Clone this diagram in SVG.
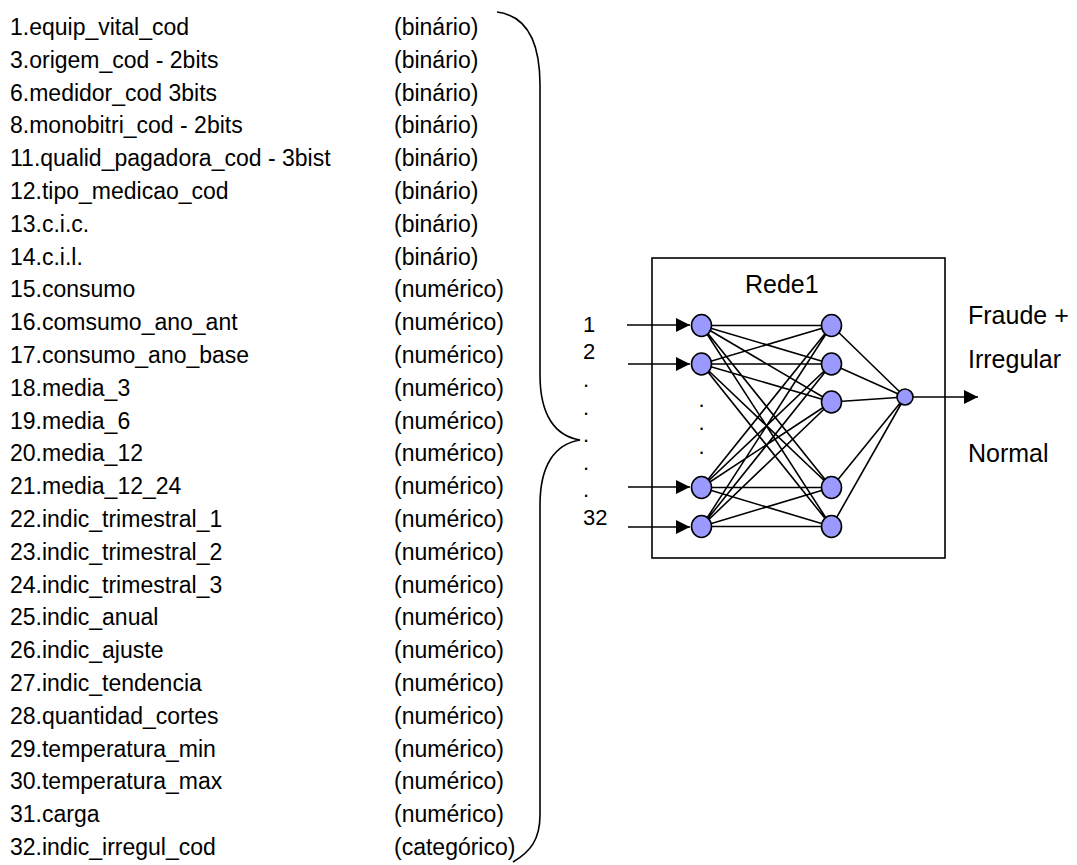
<svg xmlns="http://www.w3.org/2000/svg" width="1077" height="865" viewBox="0 0 1077 865">
<style>
text{font-family:"Liberation Sans",Arial,sans-serif;fill:#000}
.li{font-size:23px}
.lb{font-size:22px}
.big{font-size:25px}
.ln{stroke:#000;stroke-width:1.6;fill:none}
.nd{fill:#9999ff;stroke:#000;stroke-width:1.6}
</style>
<defs>
<marker id="ah" markerWidth="14" markerHeight="14" refX="14" refY="7" orient="auto" markerUnits="userSpaceOnUse"><path d="M0,0 L14,7 L0,14 z" fill="#000"/></marker>
</defs>
<rect width="1077" height="865" fill="#fff"/>
<g id="variable-list" class="li">
<text x="10" y="35">1.equip_vital_cod</text><text x="394" y="35">(binário)</text>
<text x="10" y="67.8">3.origem_cod - 2bits</text><text x="394" y="67.8">(binário)</text>
<text x="10" y="100.6">6.medidor_cod 3bits</text><text x="394" y="100.6">(binário)</text>
<text x="10" y="133.4">8.monobitri_cod - 2bits</text><text x="394" y="133.4">(binário)</text>
<text x="10" y="166.2">11.qualid_pagadora_cod - 3bist</text><text x="394" y="166.2">(binário)</text>
<text x="10" y="199">12.tipo_medicao_cod</text><text x="394" y="199">(binário)</text>
<text x="10" y="231.8">13.c.i.c.</text><text x="394" y="231.8">(binário)</text>
<text x="10" y="264.6">14.c.i.l.</text><text x="394" y="264.6">(binário)</text>
<text x="10" y="297.4">15.consumo</text><text x="394" y="297.4">(numérico)</text>
<text x="10" y="330.2">16.comsumo_ano_ant</text><text x="394" y="330.2">(numérico)</text>
<text x="10" y="363">17.consumo_ano_base</text><text x="394" y="363">(numérico)</text>
<text x="10" y="395.8">18.media_3</text><text x="394" y="395.8">(numérico)</text>
<text x="10" y="428.6">19.media_6</text><text x="394" y="428.6">(numérico)</text>
<text x="10" y="461.4">20.media_12</text><text x="394" y="461.4">(numérico)</text>
<text x="10" y="494.2">21.media_12_24</text><text x="394" y="494.2">(numérico)</text>
<text x="10" y="527">22.indic_trimestral_1</text><text x="394" y="527">(numérico)</text>
<text x="10" y="559.8">23.indic_trimestral_2</text><text x="394" y="559.8">(numérico)</text>
<text x="10" y="592.6">24.indic_trimestral_3</text><text x="394" y="592.6">(numérico)</text>
<text x="10" y="625.4">25.indic_anual</text><text x="394" y="625.4">(numérico)</text>
<text x="10" y="658.2">26.indic_ajuste</text><text x="394" y="658.2">(numérico)</text>
<text x="10" y="691">27.indic_tendencia</text><text x="394" y="691">(numérico)</text>
<text x="10" y="723.8">28.quantidad_cortes</text><text x="394" y="723.8">(numérico)</text>
<text x="10" y="756.6">29.temperatura_min</text><text x="394" y="756.6">(numérico)</text>
<text x="10" y="789.4">30.temperatura_max</text><text x="394" y="789.4">(numérico)</text>
<text x="10" y="822.2">31.carga</text><text x="394" y="822.2">(numérico)</text>
<text x="10" y="855">32.indic_irregul_cod</text><text x="394" y="855">(categórico)</text>
</g>
<g id="brace">
<path class="ln" d="M497,12 C528,16 540,45 540,85 L540,375 C540,415 555,436 580,440 C555,444 540,465 540,505 L540,815 C540,840 530,852 513,862"/>
</g>
<g id="input-labels" class="lb">
<text x="583" y="331.5">1</text>
<text x="583" y="359">2</text>
<text x="583" y="387">.</text>
<text x="583" y="415">.</text>
<text x="583" y="442">.</text>
<text x="583" y="470">.</text>
<text x="583" y="497">.</text>
<text x="583" y="525">32</text>
</g>
<g id="network-box">
<rect x="652" y="258" width="293" height="300" fill="none" stroke="#000" stroke-width="1.6"/>
<text class="big" x="745" y="293">Rede1</text>
</g>
<g id="connectors" class="ln">
<line x1="627" y1="325" x2="690" y2="325" marker-end="url(#ah)"/>
<line x1="628" y1="364" x2="690" y2="364" marker-end="url(#ah)"/>
<line x1="628" y1="487" x2="690" y2="487" marker-end="url(#ah)"/>
<line x1="628" y1="527" x2="690" y2="527" marker-end="url(#ah)"/>
<path d="M701.5,325.5 L831.5,325.5 M701.5,325.5 L831.5,364 M701.5,325.5 L831.5,402 M701.5,325.5 L831.5,487.5 M701.5,325.5 L831.5,526.5
M701.5,364 L831.5,325.5 M701.5,364 L831.5,364 M701.5,364 L831.5,402 M701.5,364 L831.5,487.5 M701.5,364 L831.5,526.5
M701.5,487.5 L831.5,325.5 M701.5,487.5 L831.5,364 M701.5,487.5 L831.5,402 M701.5,487.5 L831.5,487.5 M701.5,487.5 L831.5,526.5
M701.5,526.5 L831.5,325.5 M701.5,526.5 L831.5,364 M701.5,526.5 L831.5,402 M701.5,526.5 L831.5,487.5 M701.5,526.5 L831.5,526.5
M831.5,325.5 L905,397 M831.5,364 L905,397 M831.5,402 L905,397 M831.5,487.5 L905,397 M831.5,526.5 L905,397"/>
<line x1="905" y1="397" x2="978" y2="397" marker-end="url(#ah)"/>
</g>
<g id="input-nodes">
<ellipse id="in1" class="nd" cx="701.5" cy="325.5" rx="10" ry="11"/>
<ellipse id="in2" class="nd" cx="701.5" cy="364" rx="10" ry="11"/>
<text class="lb" x="701.5" y="407" text-anchor="middle">.</text>
<text class="lb" x="701.5" y="430" text-anchor="middle">.</text>
<text class="lb" x="701.5" y="454" text-anchor="middle">.</text>
<ellipse id="in31" class="nd" cx="701.5" cy="487.5" rx="10" ry="11"/>
<ellipse id="in32" class="nd" cx="701.5" cy="526.5" rx="10" ry="11"/>
</g>
<g id="hidden-nodes">
<ellipse id="h1" class="nd" cx="831.5" cy="325.5" rx="10" ry="11"/>
<ellipse id="h2" class="nd" cx="831.5" cy="364" rx="10" ry="11"/>
<ellipse id="h3" class="nd" cx="831.5" cy="402" rx="10" ry="11"/>
<ellipse id="h4" class="nd" cx="831.5" cy="487.5" rx="10" ry="11"/>
<ellipse id="h5" class="nd" cx="831.5" cy="526.5" rx="10" ry="11"/>
</g>
<g id="output-node">
<circle class="nd" cx="905" cy="397" r="8"/>
</g>
<g id="output-labels" class="big">
<text x="968" y="324">Fraude +</text>
<text x="968" y="368">Irregular</text>
<text x="968" y="462">Normal</text>
</g>
</svg>
